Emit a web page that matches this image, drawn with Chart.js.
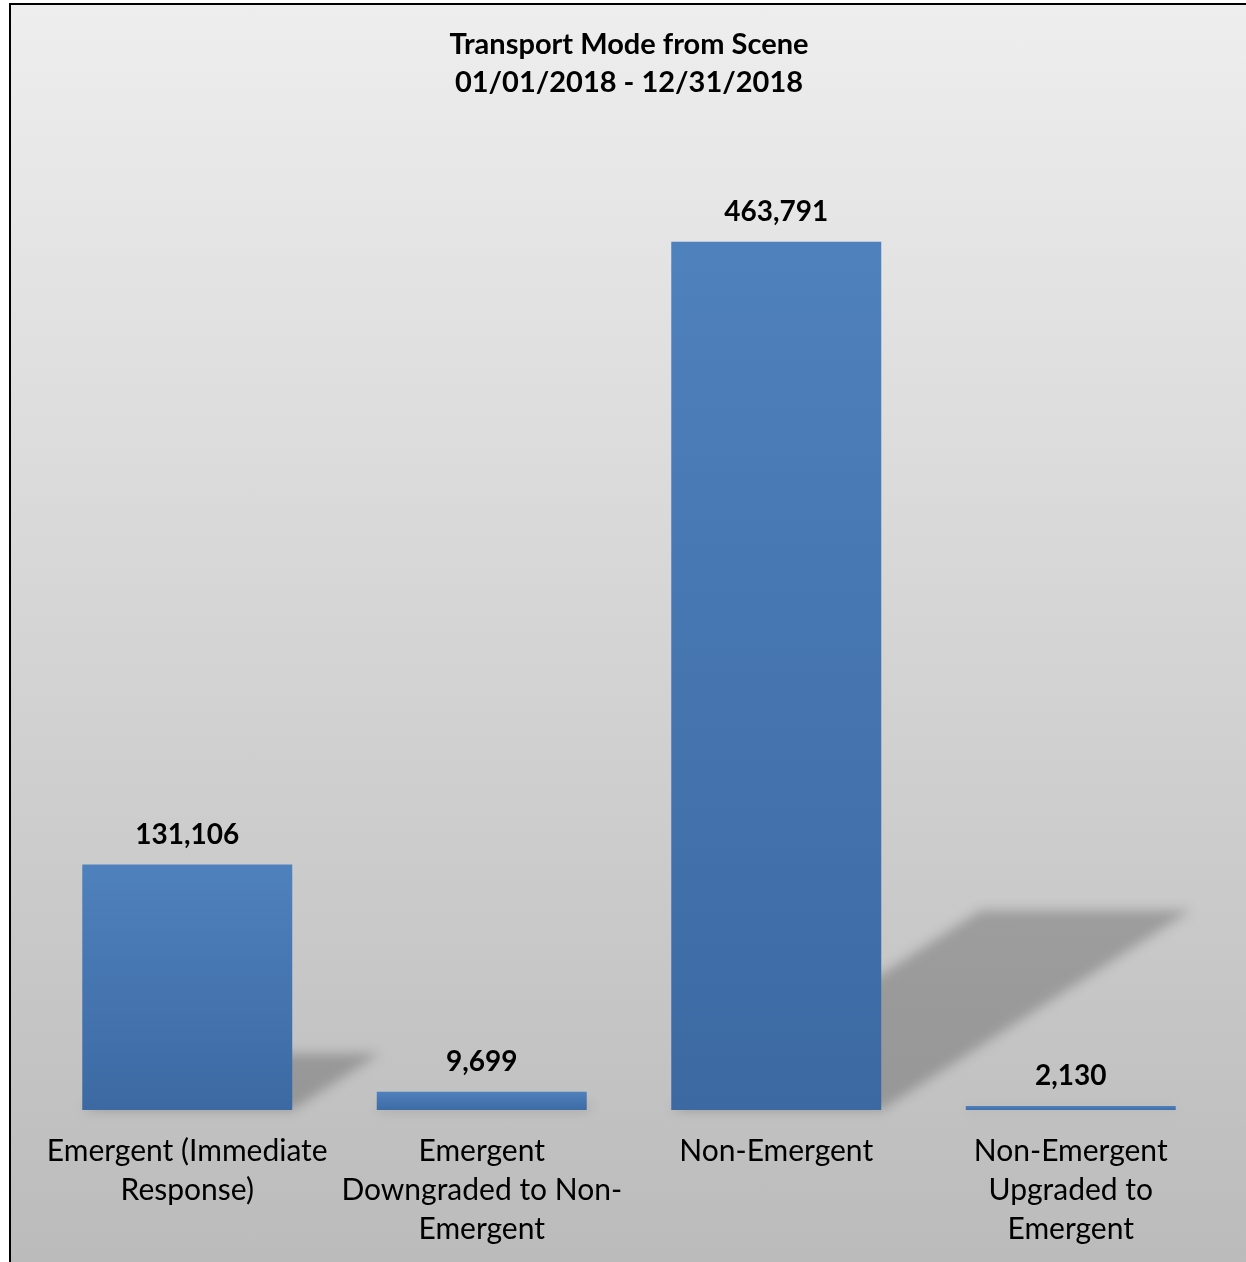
<!DOCTYPE html>
<html>
<head>
<meta charset="utf-8">
<script src="https://cdn.jsdelivr.net/npm/chart.js@4.4.0/dist/chart.umd.min.js"></script>
<style>
    html, body { margin: 0; padding: 0; background: #fff; overflow: hidden; }
    #frame {
        position: absolute; left: 9px; top: 3px; width: 1300px; height: 1300px;
        border-left: 2px solid #000; border-top: 2px solid #000;
        background: linear-gradient(#eeeeee, #bbbbbb 1262px);
    }
    #Chart-1 { position: absolute; left: 0; top: 0; }
</style>
</head>
<body>
<div id="frame"></div>
<canvas id="Chart-1" width="1246" height="1262"></canvas>
<script>
const categories = [
    ['Emergent (Immediate', 'Response)'],
    ['Emergent', 'Downgraded to Non-', 'Emergent'],
    ['Non-Emergent'],
    ['Non-Emergent', 'Upgraded to', 'Emergent']
];
const transports = [131106, 9699, 463791, 2130];
const titleLines = ['Transport Mode from Scene', '01/01/2018 - 12/31/2018'];

const fontName = 'Lato, "Open Sans", sans-serif';

// soft diagonal shadow behind each bar
const barShadows = {
    id: 'barShadows',
    beforeDatasetsDraw(chart) {
        const ctx = chart.ctx;
        const meta = chart.getDatasetMeta(0);
        ctx.save();
        ctx.filter = 'blur(6px)';
        ctx.fillStyle = 'rgba(0, 0, 0, 0.22)';
        meta.data.forEach(bar => {
            const h = (bar.base - bar.y) * 0.23;
            const dx = h * 1.55;
            const l = bar.x - bar.width / 2;
            const r = bar.x + bar.width / 2;
            ctx.beginPath();
            ctx.moveTo(l, bar.base);
            ctx.lineTo(r, bar.base);
            ctx.lineTo(r + dx, bar.base - h);
            ctx.lineTo(l + dx, bar.base - h);
            ctx.closePath();
            ctx.fill();
        });
        ctx.restore();
    }
};

// value labels above the bars
const valueLabels = {
    id: 'valueLabels',
    afterDatasetsDraw(chart) {
        const ctx = chart.ctx;
        const meta = chart.getDatasetMeta(0);
        ctx.save();
        ctx.font = 'bold 28px ' + fontName;
        ctx.fillStyle = '#000';
        ctx.textAlign = 'center';
        ctx.textBaseline = 'middle';
        meta.data.forEach((bar, i) => {
            ctx.fillText(transports[i].toLocaleString('en-US'), bar.x, bar.y - 30);
        });
        ctx.restore();
    }
};

new Chart(document.getElementById('Chart-1'), {
    type: 'bar',
    data: {
        labels: categories,
        datasets: [{
            data: transports,
            backgroundColor: function (c) {
                const chart = c.chart;
                if (!chart.chartArea || c.type !== 'data') return '#4676b0';
                const y = chart.scales.y;
                const top = y.getPixelForValue(c.raw);
                const base = y.getPixelForValue(0);
                const g = chart.ctx.createLinearGradient(0, top, 0, base + 1);
                g.addColorStop(0, '#4f81bd');
                g.addColorStop(1, '#3c69a2');
                return g;
            },
            borderWidth: 0,
            barPercentage: 0.713,
            categoryPercentage: 1
        }]
    },
    plugins: [barShadows, valueLabels],
    options: {
        responsive: false,
        animation: false,
        layout: {
            padding: { left: 40, right: 28, top: 0, bottom: -9 }
        },
        plugins: {
            legend: { display: false },
            tooltip: { enabled: false },
            title: {
                display: true,
                text: titleLines,
                color: '#000',
                font: { family: fontName, size: 29, weight: 'bold', lineHeight: 38 / 29 },
                padding: { top: 26, bottom: 72 }
            }
        },
        scales: {
            x: {
                grid: { display: false, drawTicks: false },
                border: { display: false },
                ticks: {
                    color: '#000',
                    padding: 22,
                    maxRotation: 0,
                    autoSkip: false,
                    font: { family: fontName, size: 30, lineHeight: 39 / 30 }
                }
            },
            y: {
                display: false,
                min: 0,
                max: 500000
            }
        }
    }
});
</script>
</body>
</html>
